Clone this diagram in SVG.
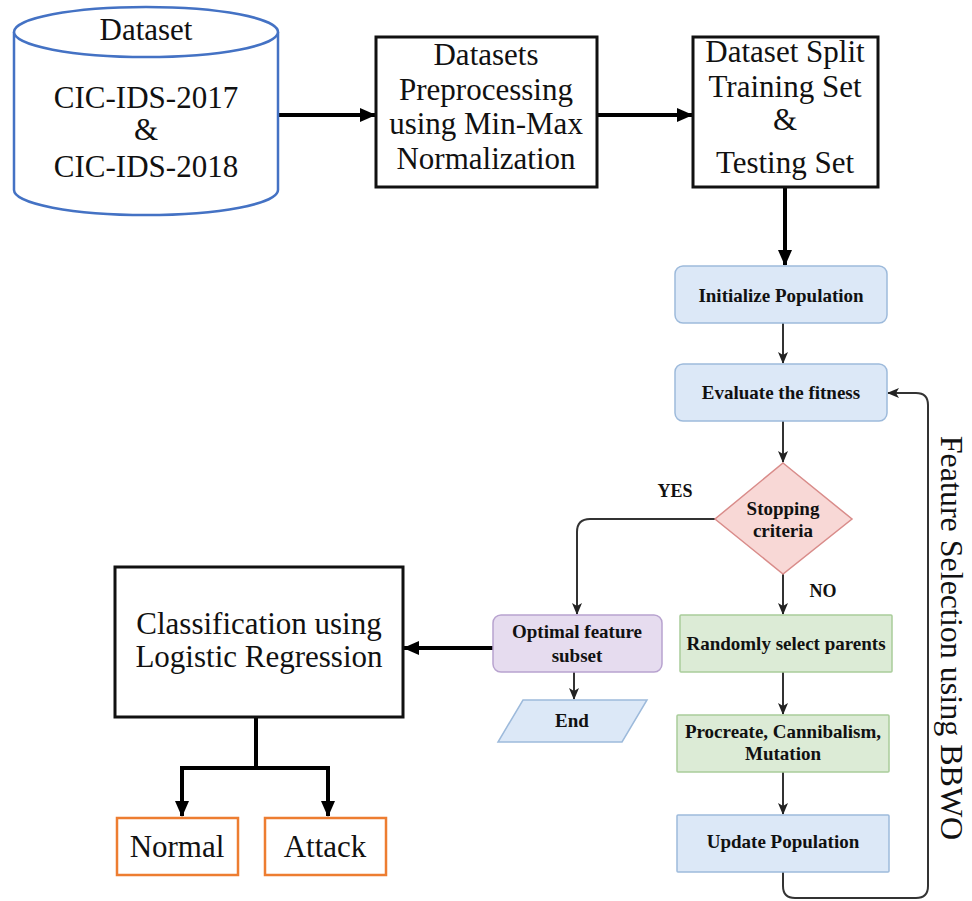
<svg xmlns="http://www.w3.org/2000/svg" width="972" height="901" viewBox="0 0 972 901">
<defs>
<style>
.serif{font-family:"Liberation Serif","Times New Roman",serif;fill:#111;text-anchor:middle}
.big{font-size:31px}
.bold{font-size:19px;font-weight:bold}
.box{fill:#fff;stroke:#111;stroke-width:3}
.blue{fill:#dce8f7;stroke:#9dbadb;stroke-width:1.5}
.green{fill:#dcebd6;stroke:#a9cd9a;stroke-width:1.5}
.purple{fill:#e6dcef;stroke:#b8a3cf;stroke-width:1.5}
.pink{fill:#f8d8d6;stroke:#d98c8a;stroke-width:1.5}
.orange{fill:#fff;stroke:#ed7d31;stroke-width:2.5}
.thick{fill:none;stroke:#000;stroke-width:4}
.thin{fill:none;stroke:#333;stroke-width:2}
</style>
<marker id="ah" markerUnits="userSpaceOnUse" markerWidth="16" markerHeight="16" viewBox="0 0 16 16" refX="15" refY="8" orient="auto">
<path d="M0,1 L16,8 L0,15 Z" fill="#000"/>
</marker>
<marker id="ahs" markerUnits="userSpaceOnUse" markerWidth="12" markerHeight="12" viewBox="0 0 12 12" refX="11" refY="6" orient="auto">
<path d="M0,1 L12,6 L0,11 L3,6 Z" fill="#222"/>
</marker>
</defs>
<rect width="972" height="901" fill="#fff"/>

<g id="connectors">
<line class="thick" x1="278" y1="115" x2="375" y2="115" marker-end="url(#ah)"/>
<line class="thick" x1="597" y1="115" x2="692" y2="115" marker-end="url(#ah)"/>
<line class="thick" x1="785" y1="187" x2="785" y2="265" marker-end="url(#ah)"/>
<line class="thin" x1="783" y1="323" x2="783" y2="363" marker-end="url(#ahs)"/>
<line class="thin" x1="783" y1="421" x2="783" y2="462" marker-end="url(#ahs)"/>
<path class="thin" d="M715,519 H590 Q577,519 577,532 V614" marker-end="url(#ahs)"/>
<line class="thin" x1="783" y1="574" x2="783" y2="614" marker-end="url(#ahs)"/>
<line class="thick" x1="493" y1="648" x2="404" y2="648" marker-end="url(#ah)"/>
<line class="thin" x1="574" y1="672" x2="574" y2="699" marker-end="url(#ahs)"/>
<line class="thin" x1="783" y1="672" x2="783" y2="714" marker-end="url(#ahs)"/>
<line class="thin" x1="783" y1="772" x2="783" y2="814" marker-end="url(#ahs)"/>
<path class="thin" d="M783,872 V886 Q783,898 795,898 H916 Q928,898 928,886 V405 Q928,393 916,393 H888" marker-end="url(#ahs)"/>
<path class="thick" d="M256,717 V768"/>
<path class="thick" d="M180,768 H330"/>
<line class="thick" x1="182" y1="766" x2="182" y2="816" marker-end="url(#ah)"/>
<line class="thick" x1="328" y1="766" x2="328" y2="816" marker-end="url(#ah)"/>
</g>

<g id="dataset">
<path d="M14,32 V190 A132,25 0 0 0 278,190 V32" fill="#fff" stroke="#4472c4" stroke-width="2.5"/>
<ellipse cx="146" cy="32" rx="132" ry="25" fill="#fff" stroke="#4472c4" stroke-width="2.5"/>
<text class="serif big" x="146" y="40">Dataset</text>
<text class="serif big" x="146" y="108">CIC-IDS-2017</text>
<text class="serif big" x="146" y="140">&amp;</text>
<text class="serif big" x="146" y="177">CIC-IDS-2018</text>
</g>

<g id="preprocessing">
<rect class="box" x="376" y="37" width="221" height="150"/>
<text class="serif big" x="486" y="65">Datasets</text>
<text class="serif big" x="486" y="100">Preprocessing</text>
<text class="serif big" x="486" y="134">using Min-Max</text>
<text class="serif big" x="486" y="169">Normalization</text>
</g>

<g id="split">
<rect class="box" x="693" y="37" width="185" height="150"/>
<text class="serif big" x="785" y="62">Dataset Split</text>
<text class="serif big" x="785" y="97">Training Set</text>
<text class="serif big" x="785" y="130">&amp;</text>
<text class="serif big" x="785" y="173">Testing Set</text>
</g>

<g id="init">
<rect class="blue" x="675" y="266" width="212" height="57" rx="8"/>
<text class="serif bold" x="781" y="302">Initialize Population</text>
</g>

<g id="evaluate">
<rect class="blue" x="675" y="364" width="212" height="57" rx="8"/>
<text class="serif bold" x="781" y="399">Evaluate the fitness</text>
</g>

<g id="stopping">
<polygon class="pink" points="783,463 852,519 783,574 715,519"/>
<text class="serif bold" x="783" y="515">Stopping</text>
<text class="serif bold" x="783" y="537">criteria</text>
</g>

<g id="labels">
<text class="serif bold" x="675" y="497" style="font-size:18px">YES</text>
<text class="serif bold" x="823" y="597" style="font-size:18px">NO</text>
</g>

<g id="optimal">
<rect class="purple" x="493" y="615" width="169" height="57" rx="8"/>
<text class="serif bold" x="577" y="638">Optimal feature</text>
<text class="serif bold" x="577" y="662">subset</text>
</g>

<g id="randomly">
<rect class="green" x="680" y="615" width="212" height="57" rx="1"/>
<text class="serif bold" x="786" y="650">Randomly select parents</text>
</g>

<g id="end">
<polygon class="blue" points="523,700 647,700 622,742 498,742"/>
<text class="serif bold" x="572" y="727">End</text>
</g>

<g id="procreate">
<rect class="green" x="677" y="715" width="212" height="57" rx="1"/>
<text class="serif bold" x="783" y="738">Procreate, Cannibalism,</text>
<text class="serif bold" x="783" y="760">Mutation</text>
</g>

<g id="update">
<rect class="blue" x="677" y="815" width="212" height="57" rx="1"/>
<text class="serif bold" x="783" y="848">Update Population</text>
</g>

<g id="classification">
<rect class="box" x="115" y="567" width="288" height="150"/>
<text class="serif big" x="259" y="634">Classification using</text>
<text class="serif big" x="259" y="667">Logistic Regression</text>
</g>

<g id="normal">
<rect class="orange" x="117" y="818" width="121" height="57"/>
<text class="serif big" x="177" y="857">Normal</text>
</g>

<g id="attack">
<rect class="orange" x="265" y="818" width="121" height="57"/>
<text class="serif big" x="325" y="857">Attack</text>
</g>

<g id="bbwo-label">
<text class="serif" x="941" y="638" transform="rotate(90 941 638)" style="font-size:32px">Feature Selection using BBWO</text>
</g>
</svg>
